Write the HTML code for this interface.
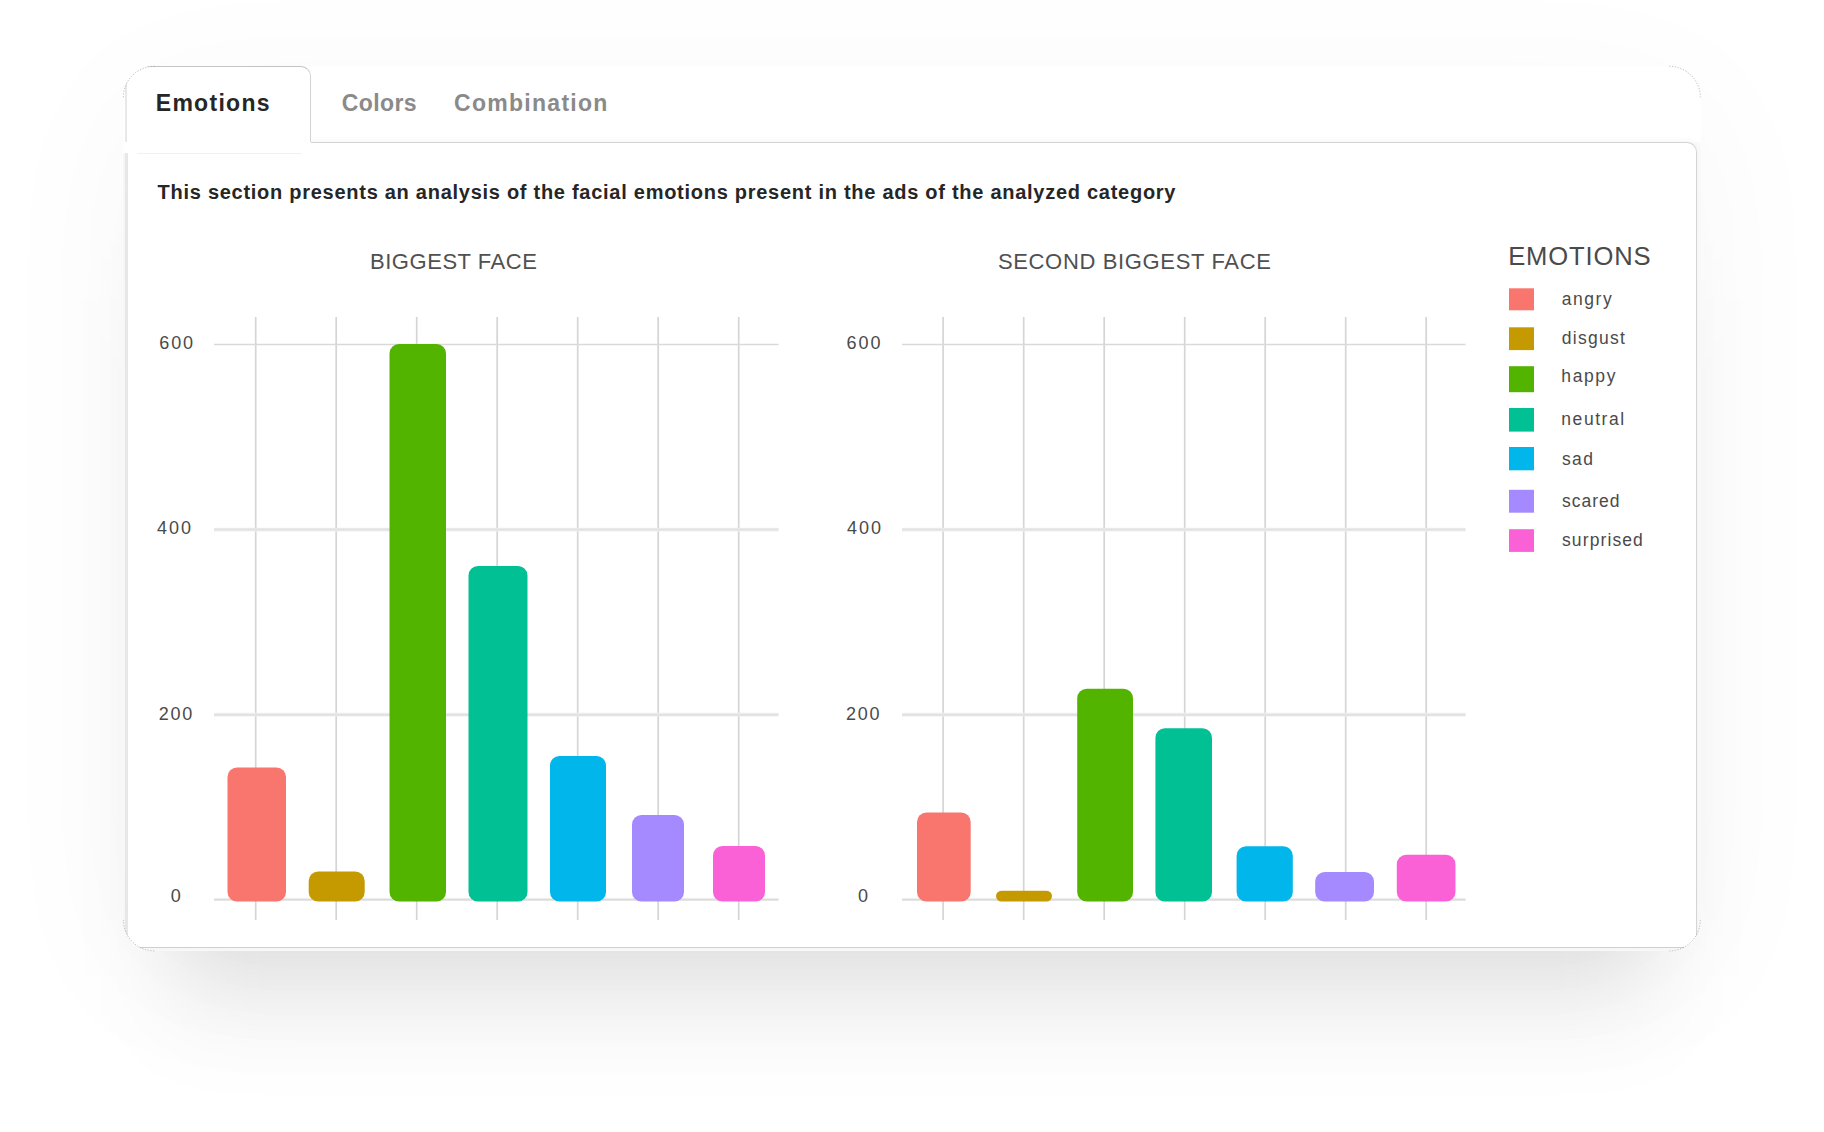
<!DOCTYPE html>
<html><head><meta charset="utf-8"><title>Emotions</title>
<style>
html,body{margin:0;padding:0;background:#fff;}
body{width:1824px;height:1132px;position:relative;overflow:hidden;font-family:"Liberation Sans",sans-serif;}
.shadow{position:absolute;left:123.1px;top:66px;width:1577.5px;height:885.2px;border-radius:31px;background:#fff;
box-shadow:0 30px 160px 0 rgba(0,0,0,0.035);}
.card{position:absolute;left:123.1px;top:66px;width:1577.5px;height:885.2px;border-radius:31px;background:#fff;overflow:hidden;}
.back{position:absolute;left:0;top:76px;width:1577.5px;height:810px;background:linear-gradient(to right,#fbfbfb 0,#fbfbfb 1577.5px);}
.panel{position:absolute;left:1.8px;top:76px;width:1572.6px;height:805.6px;border-top:1.4px solid #d3d3d3;border-right:1.6px solid #d4d4d4;border-bottom:1.8px solid #d0d0d0;border-left:3px solid #e7e7e7;border-radius:0 10px 0 0;box-sizing:border-box;background:#fff;box-shadow:0 0 9px rgba(0,0,0,0.05);}
.tab{position:absolute;left:1.9px;top:0.2px;width:186.4px;height:78px;box-sizing:border-box;border-top:1.1px solid #c4c4c4;border-right:1.4px solid #d3d3d3;border-left:2.8px solid #e8e8e8;border-bottom:none;border-radius:0 10px 0 0;background:#fff;}
.tabcover{position:absolute;left:0;top:75.6px;width:188.3px;height:11.8px;background:#fff;}
.tabline{position:absolute;left:14px;top:87px;width:165px;height:1px;background:#f1f1f1;}
svg{position:absolute;left:0;top:0;}
svg text{white-space:pre;}
</style></head><body>
<svg width="1824" height="1132" viewBox="0 0 1824 1132"><defs><filter id="gb" filterUnits="userSpaceOnUse" x="0" y="0" width="1824" height="1132"><feGaussianBlur stdDeviation="45 60"/></filter></defs><rect x="172" y="300" width="1480" height="676" fill="#000" fill-opacity="0.13" filter="url(#gb)"/></svg>
<div class="shadow"></div>
<div class="card">
<div class="back"></div>
<div class="panel"></div>
<div class="tab"></div>
<div class="tabcover"></div>
<div class="tabline"></div>
</div>
<svg width="1824" height="1132" viewBox="0 0 1824 1132" font-family="Liberation Sans, sans-serif">
<text x="155.78" y="111.2" font-size="23" letter-spacing="1.279" font-weight="bold" fill="#262626">Emotions</text>
<text x="341.86" y="111.2" font-size="23" letter-spacing="0.364" font-weight="bold" fill="#8a8a8a">Colors</text>
<text x="454.06" y="111.2" font-size="23" letter-spacing="1.282" font-weight="bold" fill="#8a8a8a">Combination</text>
<text x="157.58" y="198.8" font-size="20" letter-spacing="0.728" font-weight="bold" fill="#262626">This section presents an analysis of the facial emotions present in the ads of the analyzed category</text>
<text x="370.00" y="268.6" font-size="22" letter-spacing="0.541" fill="#505050">BIGGEST FACE</text>
<text x="997.91" y="268.6" font-size="22" letter-spacing="0.656" fill="#505050">SECOND BIGGEST FACE</text>
<text x="1508.20" y="264.8" font-size="25.6" letter-spacing="0.843" fill="#4a4a4a">EMOTIONS</text>
<line x1="255.7" y1="317" x2="255.7" y2="920" stroke="#d5d5d5" stroke-width="1.7"/>
<line x1="336.2" y1="317" x2="336.2" y2="920" stroke="#d5d5d5" stroke-width="1.7"/>
<line x1="416.7" y1="317" x2="416.7" y2="920" stroke="#d5d5d5" stroke-width="1.7"/>
<line x1="497.2" y1="317" x2="497.2" y2="920" stroke="#d5d5d5" stroke-width="1.7"/>
<line x1="577.7" y1="317" x2="577.7" y2="920" stroke="#d5d5d5" stroke-width="1.7"/>
<line x1="658.2" y1="317" x2="658.2" y2="920" stroke="#d5d5d5" stroke-width="1.7"/>
<line x1="738.7" y1="317" x2="738.7" y2="920" stroke="#d5d5d5" stroke-width="1.7"/>
<line x1="214" y1="344.5" x2="778.5" y2="344.5" stroke="#d9d9d9" stroke-width="1.7"/>
<text x="159.20" y="348.6" font-size="18" letter-spacing="1.930" fill="#4a4a4a">600</text>
<line x1="214" y1="529.6" x2="778.5" y2="529.6" stroke="#f0f0f0" stroke-width="3.8"/>
<line x1="214" y1="529.6" x2="778.5" y2="529.6" stroke="#e1e1e1" stroke-width="2.0"/>
<text x="157.00" y="534" font-size="18" letter-spacing="2.028" fill="#4a4a4a">400</text>
<line x1="214" y1="714.7" x2="778.5" y2="714.7" stroke="#f0f0f0" stroke-width="3.8"/>
<line x1="214" y1="714.7" x2="778.5" y2="714.7" stroke="#e1e1e1" stroke-width="2.0"/>
<text x="158.80" y="719.7" font-size="18" letter-spacing="1.680" fill="#4a4a4a">200</text>
<line x1="214" y1="899.6" x2="778.5" y2="899.6" stroke="#dcdcdc" stroke-width="2.2"/>
<text x="170.70" y="901.9" font-size="18" letter-spacing="0.000" fill="#4a4a4a">0</text>
<rect x="227.5" y="767.5" width="58.5" height="134.0" rx="9.5" ry="9.5" fill="#F8766D"/>
<rect x="308.7" y="871.5" width="56.0" height="30.0" rx="9.5" ry="9.5" fill="#C49A00"/>
<rect x="389.5" y="344" width="56.5" height="557.5" rx="9.5" ry="9.5" fill="#53B400"/>
<rect x="468.5" y="566" width="59.0" height="335.5" rx="9.5" ry="9.5" fill="#00C094"/>
<rect x="550" y="756" width="56.0" height="145.5" rx="9.5" ry="9.5" fill="#00B6EB"/>
<rect x="632" y="815" width="52.0" height="86.5" rx="9.5" ry="9.5" fill="#A58AFF"/>
<rect x="713" y="846" width="52.0" height="55.5" rx="9.5" ry="9.5" fill="#FB61D7"/>
<line x1="943.1" y1="317" x2="943.1" y2="920" stroke="#d5d5d5" stroke-width="1.7"/>
<line x1="1023.7" y1="317" x2="1023.7" y2="920" stroke="#d5d5d5" stroke-width="1.7"/>
<line x1="1104.2" y1="317" x2="1104.2" y2="920" stroke="#d5d5d5" stroke-width="1.7"/>
<line x1="1184.7" y1="317" x2="1184.7" y2="920" stroke="#d5d5d5" stroke-width="1.7"/>
<line x1="1265.2" y1="317" x2="1265.2" y2="920" stroke="#d5d5d5" stroke-width="1.7"/>
<line x1="1345.7" y1="317" x2="1345.7" y2="920" stroke="#d5d5d5" stroke-width="1.7"/>
<line x1="1426.2" y1="317" x2="1426.2" y2="920" stroke="#d5d5d5" stroke-width="1.7"/>
<line x1="902" y1="344.5" x2="1465.5" y2="344.5" stroke="#d9d9d9" stroke-width="1.7"/>
<text x="846.50" y="348.6" font-size="18" letter-spacing="1.980" fill="#4a4a4a">600</text>
<line x1="902" y1="529.6" x2="1465.5" y2="529.6" stroke="#f0f0f0" stroke-width="3.8"/>
<line x1="902" y1="529.6" x2="1465.5" y2="529.6" stroke="#e1e1e1" stroke-width="2.0"/>
<text x="847.00" y="534" font-size="18" letter-spacing="2.028" fill="#4a4a4a">400</text>
<line x1="902" y1="714.7" x2="1465.5" y2="714.7" stroke="#f0f0f0" stroke-width="3.8"/>
<line x1="902" y1="714.7" x2="1465.5" y2="714.7" stroke="#e1e1e1" stroke-width="2.0"/>
<text x="846.10" y="719.7" font-size="18" letter-spacing="1.630" fill="#4a4a4a">200</text>
<line x1="902" y1="899.6" x2="1465.5" y2="899.6" stroke="#dcdcdc" stroke-width="2.2"/>
<text x="857.90" y="901.9" font-size="18" letter-spacing="0.000" fill="#4a4a4a">0</text>
<rect x="917" y="812.4" width="53.7" height="89.1" rx="9.5" ry="9.5" fill="#F8766D"/>
<rect x="996" y="890.7" width="56.0" height="10.8" rx="5.399999999999977" ry="5.399999999999977" fill="#C49A00"/>
<rect x="1077.2" y="688.7" width="55.8" height="212.8" rx="9.5" ry="9.5" fill="#53B400"/>
<rect x="1155.4" y="728.3" width="56.6" height="173.2" rx="9.5" ry="9.5" fill="#00C094"/>
<rect x="1236.6" y="846.2" width="56.2" height="55.3" rx="9.5" ry="9.5" fill="#00B6EB"/>
<rect x="1315.2" y="872" width="58.8" height="29.5" rx="9.5" ry="9.5" fill="#A58AFF"/>
<rect x="1396.8" y="854.7" width="58.7" height="46.8" rx="9.5" ry="9.5" fill="#FB61D7"/>
<rect x="1509" y="288.3" width="25" height="22.0" fill="#F8766D"/>
<text x="1561.77" y="304.6" font-size="17.5" letter-spacing="1.526" fill="#4a4a4a">angry</text>
<rect x="1509" y="327.3" width="25" height="22.8" fill="#C49A00"/>
<text x="1561.77" y="343.7" font-size="17.5" letter-spacing="1.267" fill="#4a4a4a">disgust</text>
<rect x="1509" y="366.2" width="25" height="26.0" fill="#53B400"/>
<text x="1561.29" y="382.1" font-size="17.5" letter-spacing="1.614" fill="#4a4a4a">happy</text>
<rect x="1509" y="408" width="25" height="23.6" fill="#00C094"/>
<text x="1561.35" y="424.8" font-size="17.5" letter-spacing="1.535" fill="#4a4a4a">neutral</text>
<rect x="1509" y="447" width="25" height="23.3" fill="#00B6EB"/>
<text x="1562.03" y="465" font-size="17.5" letter-spacing="1.341" fill="#4a4a4a">sad</text>
<rect x="1509" y="489.8" width="25" height="22.9" fill="#A58AFF"/>
<text x="1562.03" y="507.1" font-size="17.5" letter-spacing="0.995" fill="#4a4a4a">scared</text>
<rect x="1509" y="529.2" width="25" height="22.7" fill="#FB61D7"/>
<text x="1562.03" y="545.7" font-size="17.5" letter-spacing="1.102" fill="#4a4a4a">surprised</text>
<g fill="none" stroke="#8c8c8c" stroke-width="0.7" stroke-dasharray="1.3 1.5" stroke-opacity="0.8">
<path d="M123.4 97.3A31 31 0 0 1 154.4 66.3"/><path d="M1669.3 66.3A31 31 0 0 1 1700.3 97.3"/>
<path d="M1700.3 919.9A31 31 0 0 1 1669.3 950.9"/><path d="M154.4 950.9A31 31 0 0 1 123.4 919.9"/>
</g>
</svg>
</body></html>
